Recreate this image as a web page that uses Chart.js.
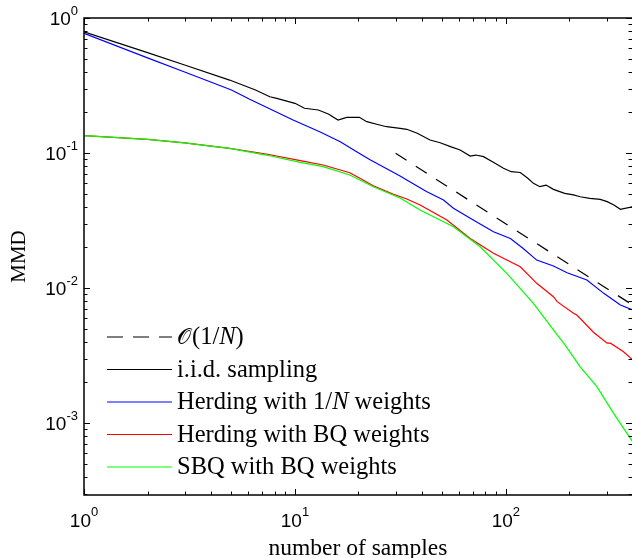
<!DOCTYPE html>
<html><head><meta charset="utf-8">
<script src="https://cdn.jsdelivr.net/npm/chart.js@4/dist/chart.umd.min.js"></script>
<style>html,body{margin:0;padding:0;background:#fff;overflow:hidden}canvas{display:block}</style>
</head><body>
<canvas id="c" width="632" height="558"></canvas>
<script>
// ---- data ----
const seriesLabels = ['O(1/N)', 'i.i.d. sampling', 'Herding with 1/N weights', 'Herding with BQ weights', 'SBQ with BQ weights'];
const xTitle = 'number of samples';
const yTitle = 'MMD';

const refN   = [30, 400];
const refMMD = [0.0995, 0.00746];

const iidN   = [1, 2, 3, 4.9, 6.5, 7.6, 8.2, 10, 11.1, 12.9, 14.4, 16, 17.6, 20.2, 21.9, 24.4, 27.2, 31.5, 33.9, 38, 43.7, 48.8, 55, 60.7, 67.7, 72, 78.3, 88, 97.4, 106, 117, 127, 135, 145, 155, 168, 190, 209, 225, 250, 280, 302, 325, 349, 400];
const iidMMD = [0.79, 0.554, 0.449, 0.347, 0.293, 0.261, 0.254, 0.2334, 0.2144, 0.2083, 0.1945, 0.1756, 0.1838, 0.1838, 0.1706, 0.1632, 0.1566, 0.1524, 0.1498, 0.140, 0.1248, 0.1192, 0.111, 0.1052, 0.095, 0.0966, 0.094, 0.0848, 0.077, 0.0727, 0.0717, 0.065, 0.0596, 0.0563, 0.0579, 0.0538, 0.0502, 0.0489, 0.0474, 0.0462, 0.0454, 0.0436, 0.0412, 0.0383, 0.040];

const herdN   = [1, 2, 3, 5, 6.1, 9.8, 13.1, 16.4, 19.6, 22.7, 31.5, 33.9, 42, 50.6, 56.4, 70, 87.3, 105, 120, 140, 168, 195, 242, 291, 349, 400];
const herdMMD = [0.77, 0.507, 0.398, 0.293, 0.250, 0.1756, 0.1438, 0.1213, 0.102, 0.089, 0.0675, 0.0631, 0.0518, 0.0449, 0.039, 0.0319, 0.0261, 0.0233, 0.0198, 0.0161, 0.01455, 0.01298, 0.01147, 0.00913, 0.00748, 0.00687];

const herdBqN   = [1, 2, 3, 4.9, 7.3, 10.6, 13.6, 18.2, 20.4, 23.5, 29.3, 33.9, 39.2, 52.5, 67.7, 87.3, 117, 140, 168, 175, 209, 217, 260, 302, 313, 361, 400];
const herdBqMMD = [0.1343, 0.126, 0.119, 0.1083, 0.0983, 0.0877, 0.0815, 0.0714, 0.0647, 0.0572, 0.0495, 0.0456, 0.0412, 0.0319, 0.0233, 0.0181, 0.01438, 0.01083, 0.00862, 0.00792, 0.0065, 0.00631, 0.0047, 0.0039, 0.0039, 0.00337, 0.00293];

const sbqN   = [1, 2, 3, 4.9, 7.3, 10.6, 13.6, 18.2, 23.5, 31.5, 39.2, 56.4, 75.5, 101, 135, 168, 191, 225, 270, 324, 375, 400];
const sbqMMD = [0.1343, 0.126, 0.119, 0.1083, 0.0966, 0.0853, 0.0792, 0.0687, 0.0563, 0.0464, 0.0378, 0.0284, 0.0202, 0.01285, 0.0077, 0.00489, 0.00378, 0.00261, 0.00186, 0.00118, 0.000839, 0.000723];

const xTickValues = [1, 10, 100];
const xTickExp    = ['0', '1', '2'];
const yTickValues = [1, 0.1, 0.01, 0.001];
const yTickExp    = ['0', '-1', '-2', '-3'];

// ---- helpers ----
const pts = (xs, ys) => xs.map((x, i) => ({x: x, y: ys[i]}));
const SANS = '"Liberation Sans", Arial, sans-serif';
const SERIF = '"Liberation Serif", "Times New Roman", serif';

function drawRich(ctx, text, x, y, size) {
  // split into runs: italic N after '/', calligraphic O before '('
  const runs = [];
  let buf = '';
  for (let i = 0; i < text.length; i++) {
    const ch = text[i];
    if (ch === 'N' && text[i - 1] === '/') {
      if (buf) runs.push([buf, 'n']); buf = '';
      runs.push(['N', 'i']);
    } else if (ch === 'O' && text[i + 1] === '(') {
      if (buf) runs.push([buf, 'n']); buf = '';
      runs.push(['\u{1D4AA}', 'c']);
    } else buf += ch;
  }
  if (buf) runs.push([buf, 'n']);
  let cx = x;
  for (const [t, s] of runs) {
    if (s === 'i') ctx.font = 'italic ' + size + 'px ' + SERIF;
    else if (s === 'c') ctx.font = (size - 3) + 'px "DejaVu Serif", "DejaVu Sans", ' + SERIF;
    else ctx.font = size + 'px ' + SERIF;
    ctx.fillText(t, cx, y);
    cx += ctx.measureText(t).width + (s === 'c' ? 1 : 0);
  }
}

const decor = {
  id: 'decor',
  afterDraw(chart) {
    const ctx = chart.ctx;
    const a = chart.chartArea;
    const xs = chart.scales.x, ys = chart.scales.y;
    ctx.save();
    ctx.strokeStyle = '#000';
    ctx.fillStyle = '#000';
    // frame (left, bottom, top)
    ctx.lineWidth = 1.5;
    ctx.beginPath();
    ctx.moveTo(a.right + 2, a.top); ctx.lineTo(a.left, a.top);
    ctx.lineTo(a.left, a.bottom); ctx.lineTo(a.right + 2, a.bottom);
    ctx.stroke();
    // ticks
    ctx.lineWidth = 1;
    ctx.beginPath();
    for (let e = 0; e <= 3; e++) {
      for (let m = 1; m <= 9; m++) {
        const v = m * Math.pow(10, e);
        if (v < xs.min || v > xs.max) continue;
        const px = Math.round(xs.getPixelForValue(v)) + 0.5;
        const L = m === 1 ? 6 : 3.5;
        ctx.moveTo(px, a.bottom); ctx.lineTo(px, a.bottom - L);
        ctx.moveTo(px, a.top); ctx.lineTo(px, a.top + L);
      }
    }
    for (let e = -4; e <= 0; e++) {
      for (let m = 1; m <= 9; m++) {
        const v = m * Math.pow(10, e);
        if (v < ys.min || v > ys.max) continue;
        const py = Math.round(ys.getPixelForValue(v)) + 0.5;
        const L = m === 1 ? 6 : 3.5;
        ctx.moveTo(a.left, py); ctx.lineTo(a.left + L, py);
        ctx.moveTo(a.right, py); ctx.lineTo(a.right - L, py);
      }
    }
    ctx.stroke();
    // x tick labels
    ctx.textBaseline = 'alphabetic';
    ctx.textAlign = 'left';
    xTickValues.forEach((v, i) => {
      const px = xs.getPixelForValue(v);
      ctx.font = '19px ' + SANS; const w1 = ctx.measureText('10').width;
      ctx.font = '13px ' + SANS; const w2 = ctx.measureText(xTickExp[i]).width;
      const x0 = px - (w1 + w2) / 2;
      ctx.font = '19px ' + SANS; ctx.fillText('10', x0, a.bottom + 32);
      ctx.font = '13px ' + SANS; ctx.fillText(xTickExp[i], x0 + w1, a.bottom + 21);
    });
    // y tick labels
    yTickValues.forEach((v, i) => {
      const py = ys.getPixelForValue(v);
      ctx.font = '13px ' + SANS; const w2 = ctx.measureText(yTickExp[i]).width;
      ctx.font = '19px ' + SANS; const w1 = ctx.measureText('10').width;
      const xr = a.left - 6;
      ctx.fillText('10', xr - w2 - w1, py + 7);
      ctx.font = '13px ' + SANS; ctx.fillText(yTickExp[i], xr - w2, py - 3.5);
    });
    // axis titles
    ctx.font = '23.5px ' + SERIF;
    ctx.textAlign = 'center';
    ctx.fillText(xTitle, (a.left + a.right) / 2, 555);
    ctx.save();
    ctx.translate(25, (a.top + a.bottom) / 2);
    ctx.rotate(-Math.PI / 2);
    ctx.font = '21px ' + SERIF;
    ctx.fillText(yTitle, 0, 0);
    ctx.restore();
    // legend
    ctx.textAlign = 'left';
    const rowY = [337, 369.5, 402, 434.5, 467];
    chart.data.datasets.forEach((ds, i) => {
      const y = rowY[i];
      ctx.save();
      ctx.strokeStyle = ds.borderColor;
      ctx.lineWidth = ds.borderWidth;
      ctx.setLineDash(ds.borderDash && ds.borderDash.length ? [16, 10] : []);
      ctx.beginPath(); ctx.moveTo(107, y); ctx.lineTo(172, y); ctx.stroke();
      ctx.restore();
      ctx.fillStyle = '#000';
      drawRich(ctx, ds.label, 177, y + 7, 24.5);
    });
    ctx.restore();
  }
};

new Chart(document.getElementById('c'), {
  type: 'line',
  data: {
    datasets: [
      {label: seriesLabels[0], data: pts(refN, refMMD), borderColor: '#000000', borderWidth: 1.2, borderDash: [13, 11], order: 4},
      {label: seriesLabels[1], data: pts(iidN, iidMMD), borderColor: '#000000', borderWidth: 1.2, order: 3},
      {label: seriesLabels[2], data: pts(herdN, herdMMD), borderColor: '#0000ff', borderWidth: 1.2, order: 2},
      {label: seriesLabels[3], data: pts(herdBqN, herdBqMMD), borderColor: '#ff0000', borderWidth: 1.2, order: 1},
      {label: seriesLabels[4], data: pts(sbqN, sbqMMD), borderColor: '#00ff00', borderWidth: 1.2, order: 0}
    ]
  },
  options: {
    responsive: false,
    animation: false,
    events: [],
    layout: {padding: {left: 84, top: 18, right: 0, bottom: 63}},
    elements: {point: {radius: 0}, line: {tension: 0, fill: false}},
    plugins: {legend: {display: false}, tooltip: {enabled: false}},
    scales: {
      x: {type: 'logarithmic', min: 1, max: 396, bounds: 'data', display: false},
      y: {type: 'logarithmic', min: 2.93e-4, max: 1, bounds: 'data', display: false}
    }
  },
  plugins: [decor]
});
</script>
</body></html>
